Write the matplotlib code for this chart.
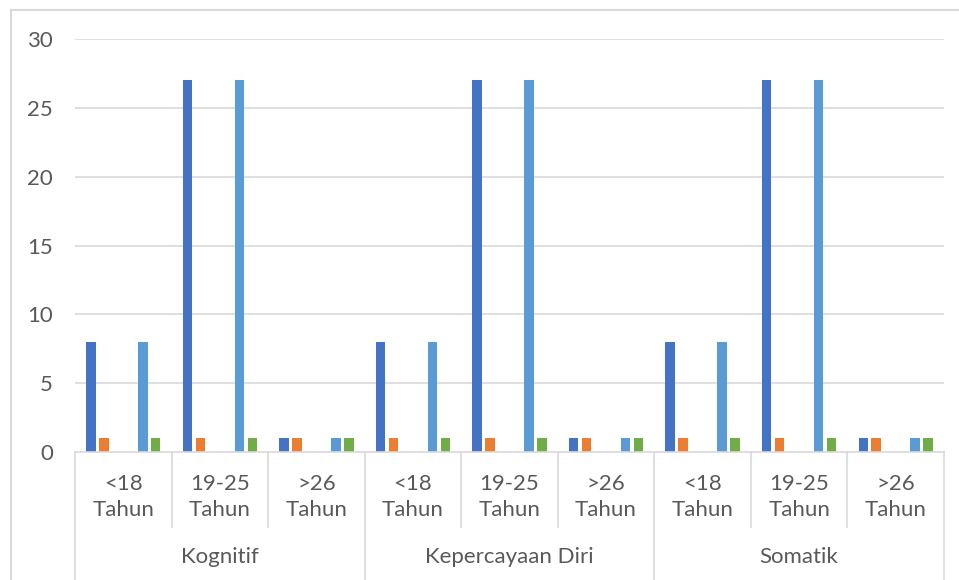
import matplotlib.pyplot as plt
import matplotlib.transforms as mtransforms
from matplotlib.lines import Line2D
import numpy as np

# ===========================
# data
# ===========================

aspects = ["Kognitif", "Kepercayaan Diri", "Somatik"]
age_groups = ["<18\nTahun", "19-25\nTahun", ">26\nTahun"]

series_1 = [8, 27, 1, 8, 27, 1, 8, 27, 1]
series_2 = [1, 1, 1, 1, 1, 1, 1, 1, 1]
series_3 = [0, 0, 0, 0, 0, 0, 0, 0, 0]
series_4 = [0, 0, 0, 0, 0, 0, 0, 0, 0]
series_5 = [8, 27, 1, 8, 27, 1, 8, 27, 1]
series_6 = [1, 1, 1, 1, 1, 1, 1, 1, 1]

series = [series_1, series_2, series_3, series_4, series_5, series_6]
colors = ["#4472C4", "#ED7D31", "#A5A5A5", "#FFC000", "#5B9BD5", "#70AD47"]

TEXT = "#595959"
GRID = "#d9d9d9"
FONT = "Lato"
FS = 16

W, H = 959, 580

fig = plt.figure(figsize=(W / 100, H / 100), dpi=100)

# axes box in pixel units
x0, x1 = 75, 944
y_top, y_zero = 39, 452
ax = fig.add_axes([x0 / W, 1 - y_zero / H, (x1 - x0) / W, (y_zero - y_top) / H])

n_groups = len(series_1)
x = np.arange(n_groups)
step = 0.1346
width = 0.098

for i, (vals, c) in enumerate(zip(series, colors)):
    ax.bar(x + (i - 2.5) * step, vals, width=width, color=c, zorder=3)

ax.set_xlim(-0.5, n_groups - 0.5)
ax.set_ylim(0, 30)
ax.set_yticks(range(0, 31, 5))
ax.set_yticklabels([str(v) for v in range(0, 31, 5)],
                   fontsize=FS, color=TEXT, family=FONT)
ax.tick_params(axis="y", length=0, pad=16)
ax.set_xticks([])

for s in ["top", "right", "left"]:
    ax.spines[s].set_visible(False)
ax.spines["bottom"].set_color(GRID)
ax.spines["bottom"].set_linewidth(1.2)
ax.spines["bottom"].set_zorder(4)

for v in range(5, 31, 5):
    ax.axhline(v, color=GRID, linewidth=1.2, zorder=1)

# ---------- multi-level category axis ----------
def fy(py):
    return 1 - py / H

trans = mtransforms.blended_transform_factory(ax.transData, fig.transFigure)

for k in range(n_groups + 1):
    xb = k - 0.5
    major = k % 3 == 0
    y_end = H if major else 527
    ax.add_line(Line2D([xb, xb], [fy(y_zero), fy(y_end)], transform=trans,
                       color=GRID, linewidth=1.2, clip_on=False))

for k in range(n_groups):
    ax.text(k, fy(497), age_groups[k % 3], transform=trans, ha="center",
            va="center", fontsize=FS, color=TEXT, family=FONT,
            linespacing=1.4)

for j, name in enumerate(aspects):
    ax.text(3 * j + 1, fy(557), name, transform=trans, ha="center",
            va="center", fontsize=FS, color=TEXT, family=FONT)

# chart area border (top and left edges)
fig.add_artist(Line2D([11 / W, 1], [fy(10), fy(10)], color=GRID, linewidth=1.5))
fig.add_artist(Line2D([11 / W, 11 / W], [fy(10), 0], color=GRID, linewidth=1.5))

plt.savefig("out.png", dpi=100)
